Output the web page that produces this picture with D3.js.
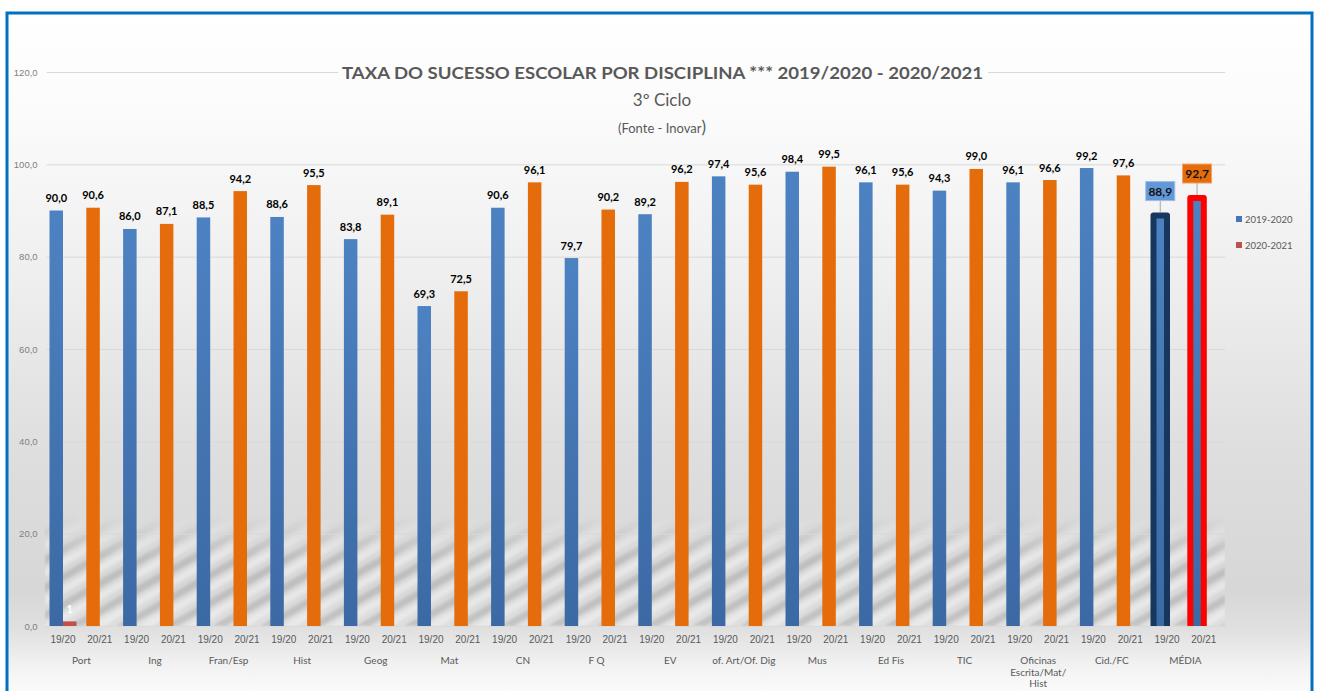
<!DOCTYPE html>
<html>
<head>
<meta charset="utf-8">
<script src="https://cdn.jsdelivr.net/npm/d3@7"></script>
<style>
  html, body { margin: 0; padding: 0; background: #fff; }
  svg { display: block; font-family: Lato, 'Open Sans', sans-serif; }
  .tick line { stroke: #d9d9d9; }
  .domain { stroke: #d9d9d9; }
</style>
</head>
<body>
<div id="chart"></div>
<script>
// data
const groups = ['Port', 'Ing', 'Fran/Esp', 'Hist', 'Geog', 'Mat', 'CN', 'F Q', 'EV',
  'of. Art/Of. Dig', 'Mus', 'Ed Fis', 'TIC', 'Oficinas|Escrita/Mat/|Hist', 'Cid./FC', 'MÉDIA']
const years = ['19/20', '20/21']
const values1920 = [90.0, 86.0, 88.5, 88.6, 83.8, 69.3, 90.6, 79.7, 89.2, 97.4, 98.4, 96.1, 94.3, 96.1, 99.2, 88.9]
const values2021 = [90.6, 87.1, 94.2, 95.5, 89.1, 72.5, 96.1, 90.2, 96.2, 95.6, 99.5, 95.6, 99.0, 96.6, 97.6, 92.7]
// second series (legend "2020-2021") only has one point, on Port 19/20
const series2 = [1]
const legendLabels = ['2019-2020', '2020-2021']
const yTicks = [0, 20, 40, 60, 80, 100, 120]

// dimension stuff
const width = 1319
const height = 691
const plotLeft = 44.6
const plotRight = 1222.2
const plotTop = 72
const plotBottom = 626
const barWidth = 13.5
const floorTop = 515

// colors
const blue = '#4577b8'
const orange = '#e46c0a'
const red = '#c0504d'
const textGrey = '#595959'

const fmt = d3.formatLocale({ decimal: ',', thousands: '.', grouping: [3], currency: ['', ''] }).format('.1f')

// one category per group/year pair
const cats = []
groups.forEach((g, i) => {
  cats.push({ id: `${i}-0`, group: g, gi: i, year: years[0], value: values1920[i], s2: i === 0 ? series2[0] : null })
  cats.push({ id: `${i}-1`, group: g, gi: i, year: years[1], value: values2021[i], s2: null })
})
const lastGroup = groups.length - 1

// scales
const scaleX = d3.scaleBand()
  .domain(cats.map(d => d.id))
  .range([plotLeft, plotRight])
  .padding(0)

const scaleSub = d3.scaleBand()
  .domain(['s1', 's2'])
  .range([scaleX.bandwidth() / 2 - barWidth, scaleX.bandwidth() / 2 + barWidth])

const scaleY = d3.scaleLinear()
  .domain([0, 120])
  .range([plotBottom, plotTop])

const $svg = d3.select('#chart').append('svg')
  .attr('width', width)
  .attr('height', height)

const defs = $svg.append('defs')

// background gradient (user space so other rects can reuse it)
const bg = defs.append('linearGradient')
  .attr('id', 'bgGrad')
  .attr('gradientUnits', 'userSpaceOnUse')
  .attr('x1', 0).attr('x2', 0).attr('y1', 13).attr('y2', height)
bg.selectAll('stop')
  .data([[0, '#ffffff'], [0.15, '#fbfbfb'], [0.4, '#eeeeee'], [0.65, '#dedede'], [0.85, '#d7d7d7'],
    [0.91, '#e0e0e0'], [0.96, '#f1f1f1'], [1, '#fbfbfb']])
  .enter().append('stop')
  .attr('offset', d => d[0])
  .attr('stop-color', d => d[1])

const barGrad = defs.append('linearGradient')
  .attr('id', 'blueGrad')
  .attr('x1', 0).attr('x2', 0).attr('y1', 0).attr('y2', 1)
barGrad.append('stop').attr('offset', 0).attr('stop-color', '#4d82c2')
barGrad.append('stop').attr('offset', 1).attr('stop-color', '#3b69a4')

// diagonal stripes on the floor of the plot
const pat = defs.append('pattern')
  .attr('id', 'stripes')
  .attr('patternUnits', 'userSpaceOnUse')
  .attr('width', 24).attr('height', 24)
  .attr('patternTransform', 'rotate(-30)')
pat.append('rect')
  .attr('width', 24).attr('height', 7)
  .attr('fill', '#a9a9a9')
pat.append('rect')
  .attr('y', 11)
  .attr('width', 24).attr('height', 7)
  .attr('fill', '#f4f4f4')

const fade = defs.append('linearGradient')
  .attr('id', 'fadeGrad')
  .attr('gradientUnits', 'userSpaceOnUse')
  .attr('x1', 0).attr('x2', 0).attr('y1', floorTop).attr('y2', plotBottom)
fade.append('stop').attr('offset', 0).attr('stop-color', '#fff').attr('stop-opacity', 0)
fade.append('stop').attr('offset', 0.4).attr('stop-color', '#fff').attr('stop-opacity', 0.9)
fade.append('stop').attr('offset', 1).attr('stop-color', '#fff').attr('stop-opacity', 0.85)

defs.append('mask').attr('id', 'fadeMask')
  .append('rect')
  .attr('x', plotLeft).attr('y', floorTop)
  .attr('width', plotRight - plotLeft + 3).attr('height', plotBottom - floorTop)
  .attr('fill', 'url(#fadeGrad)')

defs.append('filter').attr('id', 'soft')
  .append('feGaussianBlur').attr('stdDeviation', 1.6)

defs.append('clipPath').attr('id', 'plotClip')
  .append('rect')
  .attr('x', 0).attr('y', 0)
  .attr('width', width).attr('height', plotBottom)

// background + frame
$svg.append('rect')
  .attr('width', width).attr('height', height)
  .attr('fill', '#fff')
$svg.append('rect')
  .attr('x', 7).attr('y', 13)
  .attr('width', 1305).attr('height', 700)
  .attr('fill', 'url(#bgGrad)')
  .attr('stroke', '#0070c0')
  .attr('stroke-width', 3)

$svg.append('rect')
  .attr('x', plotLeft).attr('y', floorTop)
  .attr('width', plotRight - plotLeft + 3).attr('height', plotBottom - floorTop)
  .attr('fill', 'url(#stripes)')
  .attr('mask', 'url(#fadeMask)')
  .attr('filter', 'url(#soft)')
  .attr('opacity', 0.6)

// y axis + gridlines
const $yAxis = $svg.append('g')
  .attr('transform', `translate(${plotLeft + 2}, 0)`)
  .call(d3.axisLeft(scaleY)
    .tickValues(yTicks)
    .tickSize(-(plotRight - plotLeft + 1))
    .tickFormat(fmt)
    .tickPadding(9))
$yAxis.select('.domain').remove()
$yAxis.selectAll('.tick line').attr('stroke', '#dedede')
$yAxis.selectAll('text')
  .attr('fill', '#7f7f7f')
  .style('font-size', '9.5px')

// x axis
const $xAxis = $svg.append('g')
  .attr('transform', `translate(0, ${plotBottom})`)
  .call(d3.axisBottom(scaleX)
    .tickSize(0)
    .tickPadding(10)
    .tickFormat(id => cats.find(c => c.id === id).year))
$xAxis.selectAll('text')
  .attr('fill', textGrey)
  .style('font-size', '10px')

// group labels (multi-line for Oficinas)
const $groupLabels = $svg.append('g')
  .selectAll('text')
  .data(groups)
  .enter()
  .append('text')
  .attr('text-anchor', 'middle')
  .attr('fill', textGrey)
  .style('font-size', '10px')
  .attr('transform', (d, i) => `translate(${scaleX(`${i}-1`)}, 664)`)

$groupLabels.selectAll('tspan')
  .data(d => d.split('|'))
  .enter()
  .append('tspan')
  .attr('x', 0)
  .attr('y', (d, i) => i * 11.5)
  .text(d => d)

// bars
const $vis = $svg.append('g').attr('clip-path', 'url(#plotClip)')

$vis.selectAll('.bar')
  .data(cats)
  .enter()
  .append('rect')
  .attr('class', 'bar')
  .attr('x', d => scaleX(d.id) + scaleSub('s1'))
  .attr('y', d => scaleY(d.value))
  .attr('width', barWidth)
  .attr('height', d => scaleY(0) - scaleY(d.value) + (d.gi === lastGroup ? 6 : 0))
  .attr('fill', d => (d.year === years[0] || d.gi === lastGroup) ? 'url(#blueGrad)' : orange)
  .attr('stroke', d => d.gi !== lastGroup ? 'none' : (d.year === years[0] ? '#17375e' : '#ff0000'))
  .attr('stroke-width', d => d.gi === lastGroup ? 6 : 0)
  .attr('stroke-linejoin', 'round')

// series 2 (one point)
const s2 = cats.filter(d => d.s2 != null)
$vis.selectAll('.bar2')
  .data(s2)
  .enter()
  .append('rect')
  .attr('class', 'bar2')
  .attr('x', d => scaleX(d.id) + scaleSub('s2'))
  .attr('y', d => scaleY(d.s2))
  .attr('width', barWidth)
  .attr('height', d => scaleY(0) - scaleY(d.s2))
  .attr('fill', red)

$svg.selectAll('.label2')
  .data(s2)
  .enter()
  .append('text')
  .attr('class', 'label2')
  .attr('x', d => scaleX(d.id) + scaleSub('s2') + barWidth / 2)
  .attr('y', d => scaleY(d.s2) - 8.5)
  .attr('text-anchor', 'middle')
  .attr('fill', '#fff')
  .style('font-size', '11px')
  .style('font-weight', 700)
  .text(d => d.s2)

// value labels
const plain = cats.filter(d => d.gi !== lastGroup)
$svg.selectAll('.label')
  .data(plain)
  .enter()
  .append('text')
  .attr('class', 'label')
  .attr('x', d => scaleX(d.id) + scaleSub('s1') + barWidth / 2)
  .attr('y', d => scaleY(d.value) - 8.5)
  .attr('text-anchor', 'middle')
  .attr('fill', '#000')
  .style('font-size', '11px')
  .style('font-weight', 700)
  .text(d => fmt(d.value))

// callout labels for MÉDIA
const media = cats.filter(d => d.gi === lastGroup)
const callouts = $svg.selectAll('.callout')
  .data(media)
  .enter()
  .append('g')
  .attr('class', 'callout')
  .attr('transform', d => `translate(${scaleX(d.id) + scaleSub('s1') + barWidth / 2}, ${scaleY(d.value)})`)

callouts.append('line')
  .attr('x1', 0).attr('x2', 0)
  .attr('y1', -15).attr('y2', -3)
  .attr('stroke', '#a6a6a6')
  .attr('stroke-width', 1)

callouts.append('rect')
  .attr('x', -14.5).attr('y', -34)
  .attr('width', 29).attr('height', 19)
  .attr('fill', d => d.year === years[0] ? '#6398d8' : orange)
  .attr('stroke', d => d.year === years[0] ? '#9dbde6' : '#f2a46a')
  .attr('stroke-width', 1)

callouts.append('text')
  .attr('y', -20)
  .attr('text-anchor', 'middle')
  .attr('fill', '#111')
  .style('font-size', '12px')
  .style('font-weight', 700)
  .text(d => fmt(d.value))

// title (background rect hides the top gridline behind it)
$svg.append('rect')
  .attr('x', 338).attr('y', 62)
  .attr('width', 650).attr('height', 20)
  .attr('fill', 'url(#bgGrad)')

$svg.append('text')
  .attr('x', 662.5).attr('y', 79)
  .attr('text-anchor', 'middle')
  .attr('fill', textGrey)
  .attr('textLength', 641)
  .attr('lengthAdjust', 'spacingAndGlyphs')
  .style('font-size', '17.5px')
  .style('font-weight', 700)
  .text('TAXA DO SUCESSO ESCOLAR POR DISCIPLINA *** 2019/2020 - 2020/2021')

$svg.append('text')
  .attr('x', 662).attr('y', 106)
  .attr('text-anchor', 'middle')
  .attr('fill', textGrey)
  .style('font-size', '17px')
  .text('3º Ciclo')

const src = $svg.append('text')
  .attr('x', 662).attr('y', 133)
  .attr('text-anchor', 'middle')
  .attr('fill', textGrey)
  .style('font-size', '13px')
src.append('tspan').text('(Fonte - Inovar')
src.append('tspan').style('font-size', '17px').text(')')

// legend
const $legend = $svg.append('g')
  .selectAll('g')
  .data(legendLabels)
  .enter()
  .append('g')
  .attr('transform', (d, i) => `translate(1236, ${219 + i * 26})`)

$legend.append('rect')
  .attr('x', 0).attr('y', -3)
  .attr('width', 6).attr('height', 6)
  .attr('fill', (d, i) => i === 0 ? blue : red)

$legend.append('text')
  .attr('x', 9).attr('y', 3.5)
  .attr('fill', textGrey)
  .style('font-size', '9.5px')
  .text(d => d)
</script>
</body>
</html>
